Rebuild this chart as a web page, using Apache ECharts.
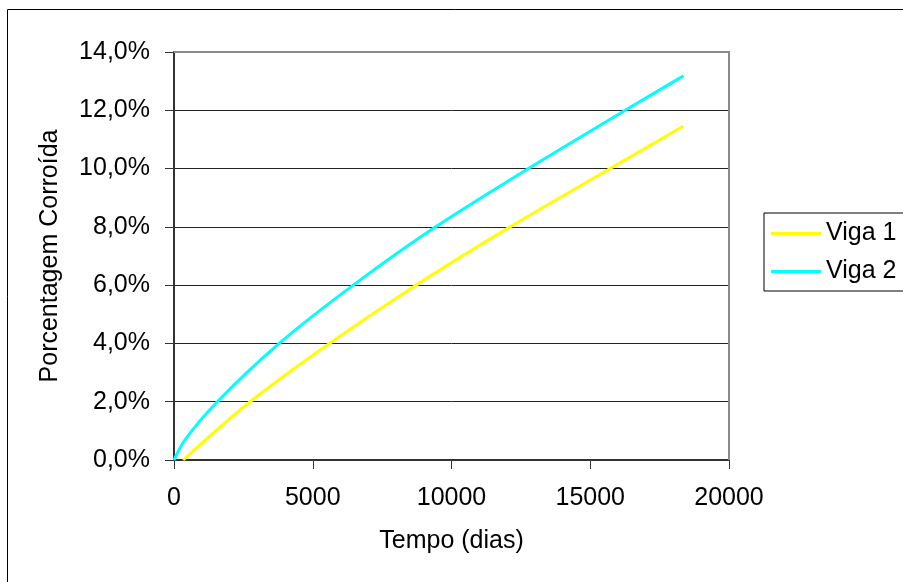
<!DOCTYPE html>
<html>
<head>
<meta charset="utf-8">
<script src="https://cdn.jsdelivr.net/npm/echarts@6/dist/echarts.min.js"></script>
<style>
  html, body { margin: 0; padding: 0; background: #fff; }
  #chart { width: 903px; height: 582px; }
</style>
</head>
<body>
<div id="chart"></div>
<script>
// Corrosion progress of two beams over time
const seriesNames = ['Viga 1', 'Viga 2'];
const diasViga1 = [330, 2740, 5600, 8720, 12110, 15720, 18360];
const pctViga1 = [0, 2, 4, 6, 8, 10, 11.46];
const diasViga2 = [0, 400, 1560, 3790, 6460, 9430, 12770, 16260, 18360];
const pctViga2 = [0, 0.7, 2, 4, 6, 8, 10, 12, 13.18];
const xTicks = [0, 5000, 10000, 15000, 20000];
const yTicks = [0, 2, 4, 6, 8, 10, 12, 14];

const FONT = '"Liberation Sans", Arial, sans-serif';
const FS = 25;
const pairs = (xs, ys) => xs.map((x, i) => [x, ys[i]]);

const chart = echarts.init(document.getElementById('chart'), null, { renderer: 'canvas' });
chart.setOption({
  backgroundColor: '#ffffff',
  animation: false,
  textStyle: { fontFamily: FONT },
  grid: { left: 174, right: 174, top: 52, bottom: 122, show: false },
  graphic: [
    // outer chart frame
    { type: 'rect', shape: { x: 7.5, y: 9.5, width: 1000, height: 1000 },
      style: { fill: 'none', stroke: '#000', lineWidth: 1 }, z: 0 },
    // plot area top and right edges
    { type: 'polyline', shape: { points: [[174, 52], [729, 52], [729, 460]] },
      style: { fill: 'none', stroke: '#8a8a8a', lineWidth: 2 }, z: 1 }
  ],
  legend: {
    orient: 'vertical',
    left: 764,
    top: 213,
    padding: [8, 40, 7, 7],
    icon: 'rect',
    itemWidth: 50,
    itemHeight: 3,
    itemGap: 13,
    borderColor: '#000',
    borderWidth: 1,
    backgroundColor: '#fff',
    textStyle: { fontSize: FS, color: '#000', fontFamily: FONT },
    data: seriesNames
  },
  xAxis: {
    type: 'value',
    min: xTicks[0], max: xTicks[xTicks.length - 1], interval: 5000,
    name: 'Tempo (dias)',
    nameLocation: 'middle',
    nameGap: 69,
    nameTextStyle: { fontSize: FS, color: '#000', fontFamily: FONT },
    axisLine: { show: true, lineStyle: { color: '#333', width: 2 } },
    axisTick: { show: true, length: 9, lineStyle: { color: '#333', width: 1 } },
    axisLabel: { fontSize: FS, color: '#000', margin: 26, fontFamily: FONT,
      formatter: v => String(v) },
    splitLine: { show: false }
  },
  yAxis: {
    type: 'value',
    min: yTicks[0], max: yTicks[yTicks.length - 1], interval: 2,
    name: 'Porcentagem Corroída',
    nameLocation: 'middle',
    nameGap: 111,
    nameTextStyle: { fontSize: FS, color: '#000', fontFamily: FONT },
    axisLine: { show: true, lineStyle: { color: '#333', width: 2 } },
    axisTick: { show: true, length: 9, lineStyle: { color: '#333', width: 1 } },
    axisLabel: {
      fontSize: FS, color: '#000', margin: 24, fontFamily: FONT,
      formatter: v => v.toFixed(1).replace('.', ',') + '%'
    },
    splitLine: { show: true, lineStyle: { color: '#222', width: 1 } }
  },
  series: [
    {
      name: seriesNames[0], type: 'line', data: pairs(diasViga1, pctViga1),
      smooth: 0.3, symbol: 'none',
      lineStyle: { color: '#ffff00', width: 3 }, itemStyle: { color: '#ffff00' }, z: 3
    },
    {
      name: seriesNames[1], type: 'line', data: pairs(diasViga2, pctViga2),
      smooth: 0.3, symbol: 'none',
      lineStyle: { color: '#00ffff', width: 3 }, itemStyle: { color: '#00ffff' }, z: 3
    }
  ]
});
</script>
</body>
</html>
